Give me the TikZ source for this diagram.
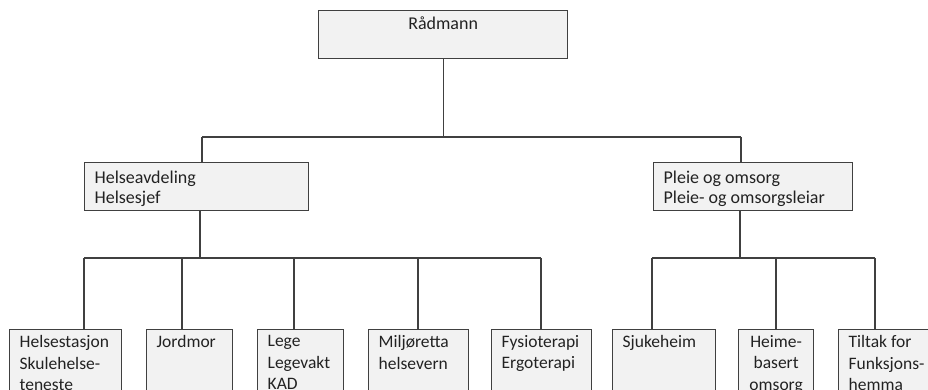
\documentclass[tikz,border=0pt]{standalone}
\usepackage{fontspec}
\setmainfont{Carlito}
\definecolor{unitfill}{HTML}{F2F2F2}
\definecolor{unitline}{HTML}{404040}
\definecolor{unittext}{HTML}{222222}
\tikzset{
  unit/.style={draw=unitline, fill=unitfill, line width=1.3pt, anchor=north west,
    inner xsep=10pt, inner ysep=6pt, text=unittext},
  mid/.style={inner ysep=8pt},
  link/.style={draw=unitline, line width=1.3pt},
  big/.style={font=\fontsize{18}{20.5}\selectfont},
  small/.style={font=\fontsize{17.5}{21.3}\selectfont}
}
\begin{document}
\begin{tikzpicture}[x=1pt,y=-1pt]
    \clip (0,0) rectangle (928,390);
    \fill[white] (0,0) rectangle (928,390);

%top
\node[unit, big] (raad) at (318,10) {\parbox[t][36pt][t]{229pt}{\centering Rådmann}};

%second level
\node[unit, mid, big] (helse) at (84,162) {\parbox[t][32pt][t]{204pt}{\raggedright Helseavdeling\\Helsesjef}};
\node[unit, mid, big] (pleie) at (653,162) {\parbox[t][32pt][t]{179pt}{\raggedright Pleie og omsorg\\Pleie- og omsorgsleiar}};

%bottom level
\node[unit, small] (hstas) at (9,329) {\parbox[t][70pt][t]{92pt}{\raggedright Helsestasjon\\Skulehelse-\\teneste}};
\node[unit, small] (jord) at (146,329) {\parbox[t][70pt][t]{66pt}{\raggedright Jordmor}};
\node[unit, small] (lege) at (257,329) {\parbox[t][70pt][t]{66pt}{\raggedright Lege\\Legevakt\\KAD}};
\node[unit, small] (milj) at (368,329) {\parbox[t][70pt][t]{80pt}{\raggedright Miljøretta\\helsevern}};
\node[unit, small] (fysio) at (491,329) {\parbox[t][70pt][t]{80pt}{\raggedright Fysioterapi\\Ergoterapi}};
\node[unit, small] (sjuke) at (612,329) {\parbox[t][70pt][t]{83pt}{\raggedright Sjukeheim}};
\node[unit, small, inner xsep=8pt] (heime) at (738,329) {\parbox[t][70pt][t]{59pt}{\centering Heime-\\basert\\omsorg}};
\node[unit, small] (tiltak) at (838,329) {\parbox[t][70pt][t]{90pt}{\raggedright Tiltak for\\Funksjons-\\hemma}};

%joints
\coordinate (j1) at (202,137);
\coordinate (j2) at (741,137);
\coordinate (jh) at (200,258);
\coordinate (jp) at (740,258);

\draw[link] (raad.south) -- (raad.south |- j1);
\draw[link] (j1) -- (j2);
\draw[link] (j1) -- (j1 |- helse.north);
\draw[link] (j2) -- (j2 |- pleie.north);

\draw[link] (jh |- helse.south) -- (jh);
\draw[link] (84,258) -- (541,258);
\foreach \x/\c in {84/hstas,182/jord,294/lege,418/milj,541/fysio}
  \draw[link] (\x,258) -- (\x,258 |- \c.north);

\draw[link] (jp |- pleie.south) -- (jp);
\draw[link] (652,258) -- (875,258);
\foreach \x/\c in {652/sjuke,776/heime,875/tiltak}
  \draw[link] (\x,258) -- (\x,258 |- \c.north);

\end{tikzpicture}
\end{document}
